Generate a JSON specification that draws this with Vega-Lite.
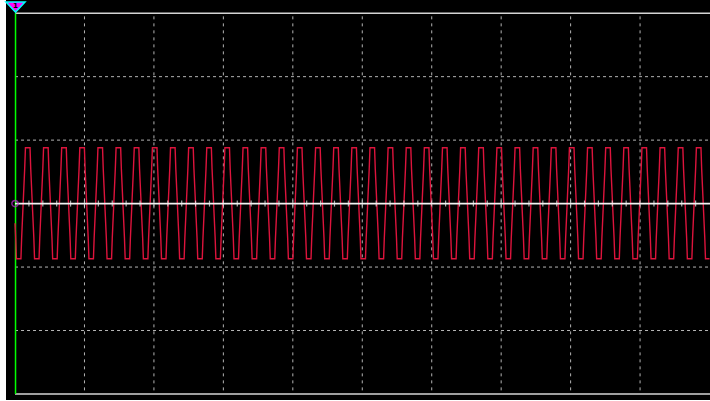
{
"$schema": "https://vega.github.io/schema/vega-lite/v6.json",
"width": 704, "height": 400,
"autosize": {"type": "none"},
"padding": {"left": 6, "top": 0, "right": 0, "bottom": 1},
"background": "white",
"config": {"view": {"fill": "black", "stroke": null}},
"datasets": {
"wave": [
{"t":0,"v":-0.31},{"t":1.0,"v":-0.55},{"t":2.0,"v":-0.87},{"t":8.5,"v":-0.87},{"t":9.5,"v":-0.55},{"t":13.9,"v":0.55},
{"t":15.0,"v":0.88},{"t":21.6,"v":0.88},{"t":22.6,"v":0.55},{"t":27.1,"v":-0.55},{"t":28.1,"v":-0.87},{"t":34.6,"v":-0.87},{"t":35.6,"v":-0.55},{"t":40.0,"v":0.55},
{"t":41.1,"v":0.88},{"t":47.7,"v":0.88},{"t":48.7,"v":0.55},{"t":53.2,"v":-0.55},{"t":54.2,"v":-0.87},{"t":60.7,"v":-0.87},{"t":61.7,"v":-0.55},{"t":66.1,"v":0.55},
{"t":67.2,"v":0.88},{"t":73.8,"v":0.88},{"t":74.8,"v":0.55},{"t":79.3,"v":-0.55},{"t":80.3,"v":-0.87},{"t":86.8,"v":-0.87},{"t":87.8,"v":-0.55},{"t":92.2,"v":0.55},
{"t":93.3,"v":0.88},{"t":99.9,"v":0.88},{"t":100.9,"v":0.55},{"t":105.4,"v":-0.55},{"t":106.4,"v":-0.87},{"t":112.9,"v":-0.87},{"t":113.9,"v":-0.55},{"t":118.3,"v":0.55},
{"t":119.4,"v":0.88},{"t":126.0,"v":0.88},{"t":127.0,"v":0.55},{"t":131.5,"v":-0.55},{"t":132.5,"v":-0.87},{"t":139.0,"v":-0.87},{"t":140.0,"v":-0.55},{"t":144.4,"v":0.55},
{"t":145.5,"v":0.88},{"t":152.1,"v":0.88},{"t":153.1,"v":0.55},{"t":157.6,"v":-0.55},{"t":158.6,"v":-0.87},{"t":165.1,"v":-0.87},{"t":166.1,"v":-0.55},{"t":170.5,"v":0.55},
{"t":171.7,"v":0.88},{"t":178.3,"v":0.88},{"t":179.3,"v":0.55},{"t":183.8,"v":-0.55},{"t":184.8,"v":-0.87},{"t":191.3,"v":-0.87},{"t":192.3,"v":-0.55},{"t":196.7,"v":0.55},
{"t":197.8,"v":0.88},{"t":204.4,"v":0.88},{"t":205.4,"v":0.55},{"t":209.9,"v":-0.55},{"t":210.9,"v":-0.87},{"t":217.4,"v":-0.87},{"t":218.4,"v":-0.55},{"t":222.8,"v":0.55},
{"t":223.9,"v":0.88},{"t":230.5,"v":0.88},{"t":231.5,"v":0.55},{"t":236.0,"v":-0.55},{"t":237.0,"v":-0.87},{"t":243.5,"v":-0.87},{"t":244.5,"v":-0.55},{"t":248.9,"v":0.55},
{"t":250.0,"v":0.88},{"t":256.6,"v":0.88},{"t":257.6,"v":0.55},{"t":262.1,"v":-0.55},{"t":263.1,"v":-0.87},{"t":269.6,"v":-0.87},{"t":270.6,"v":-0.55},{"t":275.0,"v":0.55},
{"t":276.1,"v":0.88},{"t":282.7,"v":0.88},{"t":283.7,"v":0.55},{"t":288.2,"v":-0.55},{"t":289.2,"v":-0.87},{"t":295.7,"v":-0.87},{"t":296.7,"v":-0.55},{"t":301.1,"v":0.55},
{"t":302.2,"v":0.88},{"t":308.8,"v":0.88},{"t":309.8,"v":0.55},{"t":314.3,"v":-0.55},{"t":315.3,"v":-0.87},{"t":321.8,"v":-0.87},{"t":322.8,"v":-0.55},{"t":327.2,"v":0.55},
{"t":328.3,"v":0.88},{"t":334.9,"v":0.88},{"t":335.9,"v":0.55},{"t":340.4,"v":-0.55},{"t":341.4,"v":-0.87},{"t":347.9,"v":-0.87},{"t":348.9,"v":-0.55},{"t":353.3,"v":0.55},
{"t":354.4,"v":0.88},{"t":361.0,"v":0.88},{"t":362.0,"v":0.55},{"t":366.5,"v":-0.55},{"t":367.5,"v":-0.87},{"t":374.0,"v":-0.87},{"t":375.0,"v":-0.55},{"t":379.4,"v":0.55},
{"t":380.5,"v":0.88},{"t":387.1,"v":0.88},{"t":388.1,"v":0.55},{"t":392.6,"v":-0.55},{"t":393.6,"v":-0.87},{"t":400.1,"v":-0.87},{"t":401.1,"v":-0.55},{"t":405.5,"v":0.55},
{"t":406.6,"v":0.88},{"t":413.2,"v":0.88},{"t":414.2,"v":0.55},{"t":418.7,"v":-0.55},{"t":419.7,"v":-0.87},{"t":426.2,"v":-0.87},{"t":427.2,"v":-0.55},{"t":431.6,"v":0.55},
{"t":432.8,"v":0.88},{"t":439.4,"v":0.88},{"t":440.4,"v":0.55},{"t":444.9,"v":-0.55},{"t":445.9,"v":-0.87},{"t":452.4,"v":-0.87},{"t":453.4,"v":-0.55},{"t":457.8,"v":0.55},
{"t":458.9,"v":0.88},{"t":465.5,"v":0.88},{"t":466.5,"v":0.55},{"t":471.0,"v":-0.55},{"t":472.0,"v":-0.87},{"t":478.5,"v":-0.87},{"t":479.5,"v":-0.55},{"t":483.9,"v":0.55},
{"t":485.0,"v":0.88},{"t":491.6,"v":0.88},{"t":492.6,"v":0.55},{"t":497.1,"v":-0.55},{"t":498.1,"v":-0.87},{"t":504.6,"v":-0.87},{"t":505.6,"v":-0.55},{"t":510.0,"v":0.55},
{"t":511.1,"v":0.88},{"t":517.7,"v":0.88},{"t":518.7,"v":0.55},{"t":523.2,"v":-0.55},{"t":524.2,"v":-0.87},{"t":530.7,"v":-0.87},{"t":531.7,"v":-0.55},{"t":536.1,"v":0.55},
{"t":537.2,"v":0.88},{"t":543.8,"v":0.88},{"t":544.8,"v":0.55},{"t":549.3,"v":-0.55},{"t":550.3,"v":-0.87},{"t":556.8,"v":-0.87},{"t":557.8,"v":-0.55},{"t":562.2,"v":0.55},
{"t":563.3,"v":0.88},{"t":569.9,"v":0.88},{"t":570.9,"v":0.55},{"t":575.4,"v":-0.55},{"t":576.4,"v":-0.87},{"t":582.9,"v":-0.87},{"t":583.9,"v":-0.55},{"t":588.3,"v":0.55},
{"t":589.4,"v":0.88},{"t":596.0,"v":0.88},{"t":597.0,"v":0.55},{"t":601.5,"v":-0.55},{"t":602.5,"v":-0.87},{"t":609.0,"v":-0.87},{"t":610.0,"v":-0.55},{"t":614.4,"v":0.55},
{"t":615.5,"v":0.88},{"t":622.1,"v":0.88},{"t":623.1,"v":0.55},{"t":627.6,"v":-0.55},{"t":628.6,"v":-0.87},{"t":635.1,"v":-0.87},{"t":636.1,"v":-0.55},{"t":640.5,"v":0.55},
{"t":641.6,"v":0.88},{"t":648.2,"v":0.88},{"t":649.2,"v":0.55},{"t":653.7,"v":-0.55},{"t":654.7,"v":-0.87},{"t":661.2,"v":-0.87},{"t":662.2,"v":-0.55},{"t":666.6,"v":0.55},
{"t":667.7,"v":0.88},{"t":674.3,"v":0.88},{"t":675.3,"v":0.55},{"t":679.8,"v":-0.55},{"t":680.8,"v":-0.87},{"t":687.3,"v":-0.87},{"t":688.3,"v":-0.55},{"t":692.7,"v":0.55},
{"t":693.9,"v":0.88},{"t":700.5,"v":0.88},{"t":701.5,"v":0.55},{"t":706.0,"v":-0.55},{"t":707.0,"v":-0.87},{"t":713.5,"v":-0.87},{"t":714.5,"v":-0.55},{"t":718.9,"v":0.55},
{"t":720.0,"v":0.88},{"t":726.6,"v":0.88},{"t":727.6,"v":0.55},{"t":732.1,"v":-0.55},{"t":733.1,"v":-0.87},{"t":739.6,"v":-0.87},{"t":740.6,"v":-0.55},{"t":745.0,"v":0.55},
{"t":746.1,"v":0.88},{"t":752.7,"v":0.88},{"t":753.7,"v":0.55},{"t":758.2,"v":-0.55},{"t":759.2,"v":-0.87},{"t":765.7,"v":-0.87},{"t":766.7,"v":-0.55},{"t":771.1,"v":0.55},
{"t":772.2,"v":0.88},{"t":778.8,"v":0.88},{"t":779.8,"v":0.55},{"t":784.3,"v":-0.55},{"t":785.3,"v":-0.87},{"t":791.8,"v":-0.87},{"t":792.8,"v":-0.55},{"t":797.2,"v":0.55},
{"t":798.3,"v":0.88},{"t":804.9,"v":0.88},{"t":805.9,"v":0.55},{"t":810.4,"v":-0.55},{"t":811.4,"v":-0.87},{"t":817.9,"v":-0.87},{"t":818.9,"v":-0.55},{"t":823.3,"v":0.55},
{"t":824.4,"v":0.88},{"t":831.0,"v":0.88},{"t":832.0,"v":0.55},{"t":836.5,"v":-0.55},{"t":837.5,"v":-0.87},{"t":844.0,"v":-0.87},{"t":845.0,"v":-0.55},{"t":849.4,"v":0.55},
{"t":850.5,"v":0.88},{"t":857.1,"v":0.88},{"t":858.1,"v":0.55},{"t":862.6,"v":-0.55},{"t":863.6,"v":-0.87},{"t":870.1,"v":-0.87},{"t":871.1,"v":-0.55},{"t":875.5,"v":0.55},
{"t":876.6,"v":0.88},{"t":883.2,"v":0.88},{"t":884.2,"v":0.55},{"t":888.7,"v":-0.55},{"t":889.7,"v":-0.87},{"t":896.2,"v":-0.87},{"t":897.2,"v":-0.55},{"t":901.6,"v":0.55},
{"t":902.7,"v":0.88},{"t":909.3,"v":0.88},{"t":910.3,"v":0.55},{"t":914.8,"v":-0.55},{"t":915.8,"v":-0.87},{"t":922.3,"v":-0.87},{"t":923.3,"v":-0.55},{"t":927.7,"v":0.55},
{"t":928.8,"v":0.88},{"t":935.4,"v":0.88},{"t":936.4,"v":0.55},{"t":940.9,"v":-0.55},{"t":941.9,"v":-0.87},{"t":948.4,"v":-0.87},{"t":949.4,"v":-0.55},{"t":953.8,"v":0.55},
{"t":955.0,"v":0.88},{"t":961.6,"v":0.88},{"t":962.6,"v":0.55},{"t":967.1,"v":-0.55},{"t":968.1,"v":-0.87},{"t":974.6,"v":-0.87},{"t":975.6,"v":-0.55},{"t":980.0,"v":0.55},
{"t":981.1,"v":0.88},{"t":987.7,"v":0.88},{"t":988.7,"v":0.55},{"t":993.2,"v":-0.55},{"t":994.2,"v":-0.87},{"t":1000,"v":-0.87}
],
"ticks": [
{"t":20},{"t":40},{"t":60},{"t":80},{"t":100},{"t":120},{"t":140},{"t":160},{"t":180},{"t":200},
{"t":220},{"t":240},{"t":260},{"t":280},{"t":300},{"t":320},{"t":340},{"t":360},{"t":380},{"t":400},
{"t":420},{"t":440},{"t":460},{"t":480},{"t":500},{"t":520},{"t":540},{"t":560},{"t":580},{"t":600},
{"t":620},{"t":640},{"t":660},{"t":680},{"t":700},{"t":720},{"t":740},{"t":760},{"t":780},{"t":800},
{"t":820},{"t":840},{"t":860},{"t":880},{"t":900},{"t":920},{"t":940},{"t":960},{"t":980}
],
"one": [{"id": 1}]
},
"layer": [
{
"data": {"values": [{"v":-2},{"v":-1},{"v":1},{"v":2}]},
"mark": {"type": "rule", "color": "#b4b4b4", "strokeWidth": 1, "strokeDash": [3, 3]},
"encoding": {
"y": {"field": "v", "type": "quantitative", "scale": {"domain": [-3.095, 3.208], "nice": false, "zero": false}, "axis": null},
"x": {"datum": 0, "type": "quantitative", "scale": {"domain": [-13, 1000.7], "nice": false, "zero": false}, "axis": null},
"x2": {"datum": 1000.7}
}
},
{
"data": {"values": [{"t":100},{"t":200},{"t":300},{"t":400},{"t":500},{"t":600},{"t":700},{"t":800},{"t":900}]},
"mark": {"type": "rule", "color": "#b4b4b4", "strokeWidth": 1, "strokeDash": [3, 4]},
"encoding": {
"x": {"field": "t", "type": "quantitative", "scale": {"domain": [-13, 1000.7], "nice": false, "zero": false}, "axis": null},
"y": {"datum": 2.95, "type": "quantitative", "scale": {"domain": [-3.095, 3.208], "nice": false, "zero": false}, "axis": null},
"y2": {"datum": -3}
}
},
{
"data": {"values": [{"v":3},{"v":-3}]},
"mark": {"type": "rule", "color": "#d4d4d4", "strokeWidth": 1.6},
"encoding": {
"y": {"field": "v", "type": "quantitative", "scale": {"domain": [-3.095, 3.208], "nice": false, "zero": false}, "axis": null},
"x": {"datum": 0, "type": "quantitative", "scale": {"domain": [-13, 1000.7], "nice": false, "zero": false}, "axis": null},
"x2": {"datum": 1000.7}
}
},
{
"data": {"name": "one"},
"mark": {"type": "rule", "color": "#00ff00", "strokeWidth": 1.5},
"encoding": {
"x": {"datum": 0.72, "type": "quantitative", "scale": {"domain": [-13, 1000.7], "nice": false, "zero": false}, "axis": null},
"y": {"datum": 3, "type": "quantitative", "scale": {"domain": [-3.095, 3.208], "nice": false, "zero": false}, "axis": null},
"y2": {"datum": -3}
}
},
{
"data": {"name": "wave"},
"mark": {"type": "line", "color": "#dc143c", "strokeWidth": 1.4, "interpolate": "linear"},
"encoding": {
"x": {"field": "t", "type": "quantitative", "scale": {"domain": [-13, 1000.7], "nice": false, "zero": false}, "axis": null},
"y": {"field": "v", "type": "quantitative", "scale": {"domain": [-3.095, 3.208], "nice": false, "zero": false}, "axis": null}
}
},
{
"data": {"name": "one"},
"mark": {"type": "rule", "color": "#f2f2f2", "strokeWidth": 1.6},
"encoding": {
"y": {"datum": 0, "type": "quantitative", "scale": {"domain": [-3.095, 3.208], "nice": false, "zero": false}, "axis": null},
"x": {"datum": 0, "type": "quantitative", "scale": {"domain": [-13, 1000.7], "nice": false, "zero": false}, "axis": null},
"x2": {"datum": 1000.7}
}
},
{
"data": {"name": "ticks"},
"mark": {"type": "tick", "orient": "vertical", "color": "#f2f2f2", "size": 6, "thickness": 1.2},
"encoding": {
"x": {"field": "t", "type": "quantitative", "scale": {"domain": [-13, 1000.7], "nice": false, "zero": false}, "axis": null},
"y": {"datum": 0, "type": "quantitative", "scale": {"domain": [-3.095, 3.208], "nice": false, "zero": false}, "axis": null}
}
},
{
"data": {"name": "one"},
"mark": {"type": "point", "shape": "circle", "filled": false, "stroke": "#c030d0", "strokeWidth": 1.5, "size": 40},
"encoding": {
"x": {"datum": 0, "type": "quantitative", "scale": {"domain": [-13, 1000.7], "nice": false, "zero": false}, "axis": null},
"y": {"datum": 0, "type": "quantitative", "scale": {"domain": [-3.095, 3.208], "nice": false, "zero": false}, "axis": null}
}
},
{
"data": {"name": "one"},
"mark": {"type": "point", "shape": "M-1,-0.5L1,-0.5L0,0.55Z", "filled": true, "fill": "#ff00ff", "stroke": "#00ffff", "strokeWidth": 1.5, "size": 360, "opacity": 1, "fillOpacity": 1},
"encoding": {
"x": {"datum": 0.72, "type": "quantitative", "scale": {"domain": [-13, 1000.7], "nice": false, "zero": false}, "axis": null},
"y": {"datum": 3.1, "type": "quantitative", "scale": {"domain": [-3.095, 3.208], "nice": false, "zero": false}, "axis": null}
}
},
{
"data": {"name": "one"},
"mark": {"type": "text", "text": "1", "color": "black", "fontSize": 7, "fontWeight": "bold", "font": "DejaVu Sans", "baseline": "middle", "align": "center"},
"encoding": {
"x": {"datum": 0.72, "type": "quantitative", "scale": {"domain": [-13, 1000.7], "nice": false, "zero": false}, "axis": null},
"y": {"datum": 3.12, "type": "quantitative", "scale": {"domain": [-3.095, 3.208], "nice": false, "zero": false}, "axis": null}
}
}
]
}
